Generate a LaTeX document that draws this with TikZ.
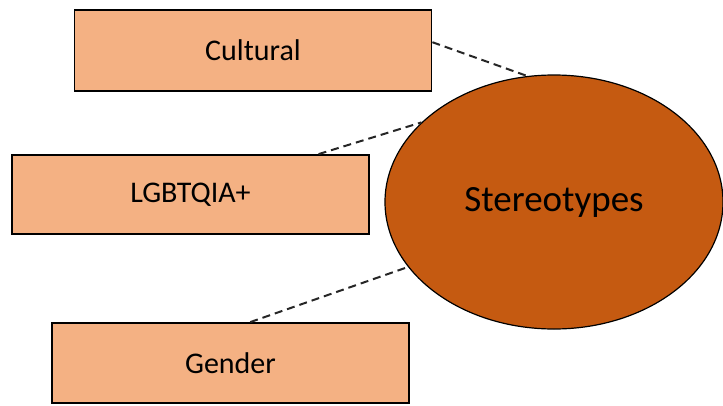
\documentclass[tikz,border=0pt]{standalone}
\usepackage{fontspec}
\setmainfont{Carlito}
\usetikzlibrary{shapes.geometric,calc}
\definecolor{boxfill}{HTML}{F4B183}
\definecolor{ellfill}{HTML}{C55A11}
\begin{document}
\begin{tikzpicture}[x=1pt,y=-1pt,
  catbox/.style={draw=black,line width=1.8pt,fill=boxfill,minimum width=357pt,minimum height=80pt,inner sep=0pt,font=\fontsize{30}{36}\selectfont},
  link/.style={draw=black!85,line width=2pt,dash pattern=on 8pt off 5pt}]
\useasboundingbox (0,0) rectangle (723,405);
\node[catbox,minimum height=81pt] (cult) at (253,50.5) {Cultural};
\node[catbox,minimum height=79pt] (lgbt) at (190.5,194.5) {LGBTQIA+};
\node[catbox] (gend) at (230.5,363) {Gender};
\node[ellipse,draw=black,line width=1.2pt,fill=ellfill,minimum width=338pt,minimum height=254pt,inner sep=0pt,font=\fontsize{37}{44}\selectfont] (st) at (554,202) {Stereotypes};
\draw[link] ($(cult.north east)!0.4!(cult.south east)$) -- (st.102);
\draw[link] ($(lgbt.north west)!0.857!(lgbt.north east)$) -- (st.149);
\draw[link] ($(gend.north west)!0.555!(gend.north east)$) -- (st.204);
\end{tikzpicture}
\end{document}
